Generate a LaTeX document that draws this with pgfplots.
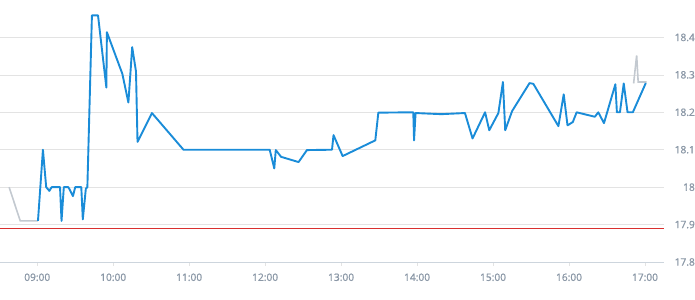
\documentclass[border=0pt]{standalone}
\usepackage{fontspec}
\setmainfont{Open Sans}
\newfontface\labelfont{Open Sans}[FakeBold=1.2]
\usepackage{pgfplots}
\pgfplotsset{compat=1.18}
\definecolor{lineblue}{HTML}{1A8CD8}
\definecolor{linegray}{HTML}{C3C9D0}
\definecolor{refred}{HTML}{D9302F}
\definecolor{gridgray}{HTML}{E3E3E3}
\definecolor{axisgray}{HTML}{CDD5DD}
\definecolor{labelgray}{HTML}{8A97A6}
\begin{document}
\begin{tikzpicture}
\begin{axis}[
  scale only axis, width=664bp, height=262bp,
  at={(0,0)}, anchor=south west,
  xmin=8.51, xmax=17.25, ymin=17.8, ymax=18.5,
  axis line style={draw=none},
  xtick={9,10,11,12,13,14,15,16,17},
  xticklabels={09:00,10:00,11:00,12:00,13:00,14:00,15:00,16:00,17:00},
  xtick pos=lower,
  ytick={17.9,18,18.1,18.2,18.3,18.4},
  extra y ticks={17.8},
  extra y tick style={grid style={axisgray, line width=0.8bp}},
  ytick pos=right, yticklabel pos=right,
  tick align=outside, major tick length=4bp,
  x tick style={draw=gridgray},
  y tick style={draw=none},
  ymajorgrids, grid style={gridgray, line width=0.6bp},
  /pgf/number format/assume math mode=true,
  tick label style={font=\labelfont\fontsize{10.2}{12}\selectfont, text=labelgray},
  yticklabel style={anchor=east, inner sep=0pt, xshift=27bp},
  xticklabel style={yshift=-4bp},
  clip=false,
]
\addplot[refred, line width=0.8bp] coordinates {(8.51,17.89) (17.25,17.89)};
\addplot[linegray, line width=1.6bp] coordinates {(8.63,18.0) (8.776,17.91) (9.01,17.91)};
\addplot[linegray, line width=1.6bp] coordinates {(16.85,18.277) (16.89,18.352) (16.91,18.281) (17.02,18.281)};
\addplot[lineblue, line width=1.9bp, line join=round] coordinates {
(9.01,17.91) (9.075,18.10) (9.118,18.00) (9.16,17.99) (9.19,18.00) (9.30,18.00)
(9.32,17.91) (9.35,18.00) (9.41,18.00) (9.47,17.976) (9.50,18.00) (9.58,18.00)
(9.60,17.914) (9.64,17.996) (9.66,18.00) (9.72,18.459) (9.80,18.459) (9.91,18.266)
(9.917,18.414) (10.12,18.303) (10.20,18.226) (10.25,18.374) (10.30,18.309) (10.32,18.121)
(10.51,18.198) (10.925,18.10) (12.06,18.10) (12.12,18.05) (12.14,18.099) (12.21,18.081)
(12.44,18.067) (12.55,18.099) (12.88,18.10) (12.90,18.139) (13.02,18.083) (13.45,18.125)
(13.49,18.199) (13.95,18.20) (13.96,18.125) (13.98,18.198) (14.32,18.195) (14.63,18.198)
(14.73,18.13) (14.895,18.20) (14.95,18.152) (15.07,18.198) (15.13,18.281) (15.16,18.152)
(15.25,18.203) (15.48,18.278) (15.53,18.276) (15.86,18.163) (15.93,18.248) (15.98,18.165)
(16.05,18.174) (16.10,18.20) (16.34,18.188) (16.385,18.20) (16.46,18.171) (16.61,18.275)
(16.63,18.20) (16.67,18.20) (16.72,18.277) (16.77,18.20) (16.84,18.20) (17.01,18.278)
};
\end{axis}
\pgfresetboundingbox
\path (0,-38bp) rectangle (695bp,262bp);
\end{tikzpicture}
\end{document}
